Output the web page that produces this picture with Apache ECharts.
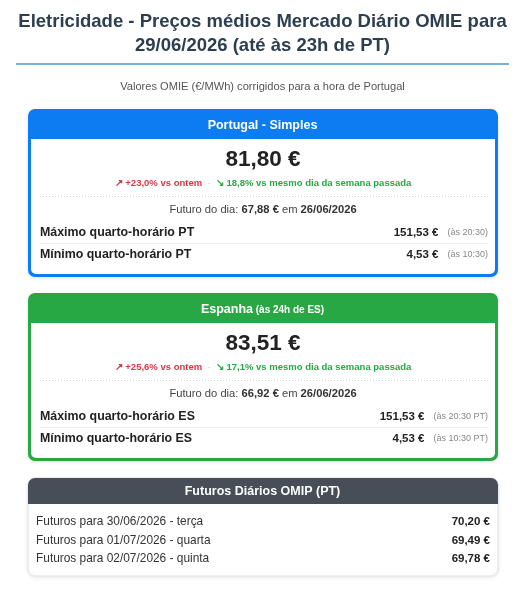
<!DOCTYPE html>
<html>
<head>
<meta charset="utf-8">
<script src="https://cdn.jsdelivr.net/npm/echarts@6/dist/echarts.min.js"></script>
<style>
html,body{margin:0;padding:0;background:#fff;}
#c{width:525px;height:590px;}
</style>
</head>
<body>
<div id="c"></div>
<script>
// ---- data ----
var titleLines = ['Eletricidade - Preços médios Mercado Diário OMIE para', '29/06/2026 (até às 23h de PT)'];
var subtitle = 'Valores OMIE (€/MWh) corrigidos para a hora de Portugal';
var cardTitles = ['Portugal - Simples', 'Espanha'];
var cardTitleNotes = ['', '(às 24h de ES)'];
var avgPrices = ['81,80 €', '83,51 €'];
var vsYesterday = ['+23,0%', '+25,6%'];
var vsLastWeek = ['18,8%', '17,1%'];
var futurePrices = ['67,88 €', '66,92 €'];
var futureDates = ['26/06/2026', '26/06/2026'];
var maxLabels = ['Máximo quarto-horário PT', 'Máximo quarto-horário ES'];
var minLabels = ['Mínimo quarto-horário PT', 'Mínimo quarto-horário ES'];
var maxValues = ['151,53 €', '151,53 €'];
var minValues = ['4,53 €', '4,53 €'];
var maxTimes = ['(às 20:30)', '(às 20:30 PT)'];
var minTimes = ['(às 10:30)', '(às 10:30 PT)'];
var omipTitle = 'Futuros Diários OMIP (PT)';
var omipLabels = ['Futuros para 30/06/2026 - terça', 'Futuros para 01/07/2026 - quarta', 'Futuros para 02/07/2026 - quinta'];
var omipValues = ['70,20 €', '69,49 €', '69,78 €'];

// ---- drawing ----
var FF = '"Liberation Sans", Arial, Helvetica, sans-serif';
var cardColors = ['#0d7cf2', '#28a745'];
var els = [];
function txt(x, y, text, font, fill, align, extra) {
  var st = {text: text, x: x, y: y, font: font, fill: fill, align: align || 'center', textAlign: align || 'center', verticalAlign: 'middle', textVerticalAlign: 'middle'};
  if (extra) for (var k in extra) st[k] = extra[k];
  els.push({type: 'text', silent: true, style: st});
}
function line(x1, y1, x2, y2, stroke, w, dash) {
  els.push({type: 'line', silent: true, shape: {x1: x1, y1: y1, x2: x2, y2: y2}, style: {stroke: stroke, lineWidth: w, lineDash: dash || null}});
}

txt(262.5, 22, titleLines[0], 'bold 18.5px ' + FF, '#2c3e50');
txt(262.5, 46, titleLines[1], 'bold 18.5px ' + FF, '#2c3e50');
line(16, 64, 509, 64, '#4a98c9', 1.5);
txt(262.5, 87, subtitle, '11.1px ' + FF, '#555');

for (var i = 0; i < 2; i++) {
  var oy = 109 + i * 184;
  var col = cardColors[i];
  els.push({type: 'rect', silent: true, shape: {x: 28, y: oy, width: 470, height: 168, r: 7}, style: {fill: col, shadowBlur: 4, shadowColor: 'rgba(0,0,0,0.12)', shadowOffsetY: 1}});
  els.push({type: 'rect', silent: true, shape: {x: 31, y: oy + 30, width: 464, height: 135, r: [0, 0, 5, 5]}, style: {fill: '#fff'}});
  // header
  if (cardTitleNotes[i]) {
    txt(262.5, oy + 17, '{a|' + cardTitles[i] + '}{b| ' + cardTitleNotes[i] + '}', 'bold 12px ' + FF, '#fff', 'center', {
      rich: {a: {font: 'bold 12.5px ' + FF, fill: '#fff', verticalAlign: 'middle'}, b: {font: 'bold 10px ' + FF, fill: '#fff', verticalAlign: 'middle'}}
    });
  } else {
    txt(262.5, oy + 17, cardTitles[i], 'bold 12.5px ' + FF, '#fff');
  }
  txt(263, oy + 51, avgPrices[i], 'bold 22.5px ' + FF, '#222');
  txt(263, oy + 74, '{r|↗ ' + vsYesterday[i] + ' vs ontem}{d|  ·  }{g|↘ ' + vsLastWeek[i] + ' vs mesmo dia da semana passada}', 'bold 9.5px ' + FF, '#333', 'center', {
    rich: {
      r: {font: 'bold 9.5px ' + FF, fill: '#dc3545', verticalAlign: 'middle'},
      d: {font: '9.5px ' + FF, fill: '#bbb', verticalAlign: 'middle'},
      g: {font: 'bold 9.5px ' + FF, fill: '#28a745', verticalAlign: 'middle'}
    }
  });
  line(40, oy + 87.5, 488, oy + 87.5, '#d5d5d5', 1, [1, 2]);
  txt(263, oy + 101, '{n|Futuro do dia: }{b|' + futurePrices[i] + '}{n| em }{b|' + futureDates[i] + '}', '11.2px ' + FF, '#444', 'center', {
    rich: {n: {font: '11.2px ' + FF, fill: '#444', verticalAlign: 'middle'}, b: {font: 'bold 11.2px ' + FF, fill: '#333', verticalAlign: 'middle'}}
  });
  txt(40, oy + 124, maxLabels[i], 'bold 12.4px ' + FF, '#222', 'left');
  txt(488, oy + 124, '{v|' + maxValues[i] + '}{t|' + maxTimes[i] + '}', 'bold 12px ' + FF, '#222', 'right', {
    rich: {v: {font: 'bold 11.5px ' + FF, fill: '#222', verticalAlign: 'middle'}, t: {font: '9px ' + FF, fill: '#888', padding: [0, 0, 0, 9], verticalAlign: 'middle'}}
  });
  line(40, oy + 134.5, 488, oy + 134.5, '#eee', 1);
  txt(40, oy + 146, minLabels[i], 'bold 12.4px ' + FF, '#222', 'left');
  txt(488, oy + 146, '{v|' + minValues[i] + '}{t|' + minTimes[i] + '}', 'bold 12px ' + FF, '#222', 'right', {
    rich: {v: {font: 'bold 11.5px ' + FF, fill: '#222', verticalAlign: 'middle'}, t: {font: '9px ' + FF, fill: '#888', padding: [0, 0, 0, 9], verticalAlign: 'middle'}}
  });
}

// OMIP card
els.push({type: 'rect', silent: true, shape: {x: 28, y: 478, width: 470, height: 98, r: 7}, style: {fill: '#fff', stroke: '#e3e3e3', lineWidth: 1, shadowBlur: 4, shadowColor: 'rgba(0,0,0,0.10)', shadowOffsetY: 1}});
els.push({type: 'rect', silent: true, shape: {x: 28, y: 478, width: 470, height: 26, r: [7, 7, 0, 0]}, style: {fill: '#474e57'}});
txt(262.5, 492, omipTitle, 'bold 12.5px ' + FF, '#fff');
for (var j = 0; j < omipLabels.length; j++) {
  var ry = 522 + j * 18.5;
  txt(36, ry, omipLabels[j], '11.9px ' + FF, '#333', 'left');
  txt(490, ry, omipValues[j], 'bold 11.5px ' + FF, '#222', 'right');
}

var chart = echarts.init(document.getElementById('c'), null, {renderer: 'canvas'});
chart.setOption({animation: false, graphic: {elements: els}});
</script>
</body>
</html>
